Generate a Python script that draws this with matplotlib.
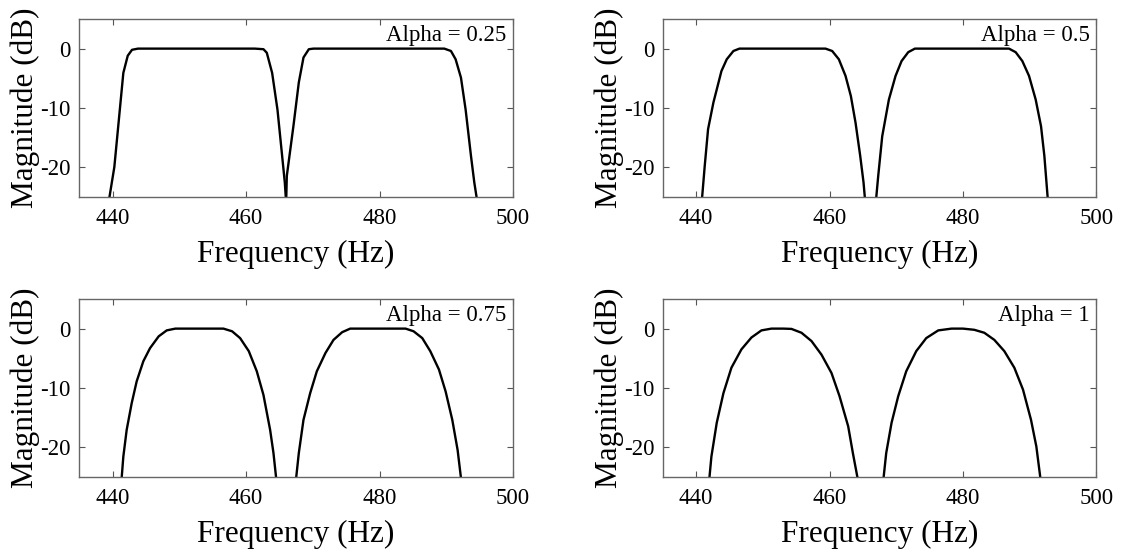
import matplotlib
matplotlib.use("Agg")
import matplotlib.pyplot as plt

plt.rcParams['font.family'] = ['Liberation Serif', 'DejaVu Serif']
plt.rcParams['axes.unicode_minus'] = False

# ---- data (frequency in Hz, magnitude in dB) ----
alphas = ["0.25", "0.5", "0.75", "1"]

# alpha = 0.25
a025_f1 = [439.5, 440.25, 441.6, 442.26, 442.9, 443.8, 461.3, 462.6, 463.1, 463.9, 464.7, 465.3, 465.8, 466.0]
a025_m1 = [-25.2, -20.0, -4.1, -1.2, -0.2, 0.0, 0.0, -0.1, -0.7, -4.1, -10.3, -17.0, -22.6, -26.0]
a025_f2 = [466.0, 466.1, 467.1, 467.9, 468.6, 469.4, 470.1, 489.7, 490.7, 491.4, 492.2, 492.9, 493.7, 494.2, 494.6]
a025_m2 = [-26.0, -21.5, -13.0, -5.7, -1.5, -0.1, 0.0, 0.0, -0.4, -1.8, -4.9, -10.3, -18.1, -22.6, -25.5]

# alpha = 0.5
a050_f1 = [440.9, 441.3, 441.8, 442.6, 443.1, 443.8, 444.6, 445.6, 446.5, 459.4, 460.4, 461.4, 462.4, 463.2, 463.9, 464.6, 465.1, 465.3]
a050_m1 = [-25.2, -19.8, -13.6, -9.1, -6.9, -3.8, -1.8, -0.4, 0.0, 0.0, -0.4, -1.8, -4.6, -8.0, -12.5, -18.1, -22.6, -25.2]
a050_f2 = [467.0, 467.3, 467.9, 468.9, 469.9, 470.8, 471.8, 472.8, 486.9, 487.9, 488.9, 489.9, 490.9, 491.7, 492.2, 492.7]
a050_m2 = [-25.2, -21.5, -14.8, -8.6, -4.6, -2.1, -0.6, 0.0, 0.0, -0.6, -2.1, -4.6, -8.6, -13.1, -18.1, -25.2]

# alpha = 0.75
a075_f1 = [441.35, 441.6, 442.1, 442.85, 443.6, 444.6, 445.6, 446.9, 448.1, 449.4, 456.6, 457.9, 459.1, 460.4, 461.6, 462.6, 463.6, 464.1, 464.5]
a075_m1 = [-25.2, -21.6, -17.1, -12.6, -8.9, -5.5, -3.3, -1.3, -0.3, 0.0, 0.0, -0.45, -1.6, -3.8, -7.2, -11.2, -17.1, -21.0, -25.2]
a075_f2 = [467.5, 467.9, 468.6, 469.6, 470.6, 471.9, 473.1, 474.4, 475.6, 483.9, 485.1, 486.4, 487.6, 488.9, 489.9, 490.9, 491.7, 492.2]
a075_m2 = [-25.2, -21.0, -15.4, -10.9, -7.2, -4.1, -1.9, -0.6, 0.0, 0.0, -0.45, -1.6, -3.8, -6.9, -10.6, -15.4, -20.5, -25.2]

# alpha = 1
a100_f1 = [442.0, 442.3, 443.1, 444.1, 445.3, 446.8, 448.3, 449.8, 451.3, 453.1, 454.3, 455.8, 457.3, 458.8, 460.3, 461.5, 462.8, 463.5, 464.2]
a100_m1 = [-25.2, -21.6, -15.9, -10.9, -6.6, -3.5, -1.5, -0.3, 0.0, 0.0, -0.05, -0.7, -2.1, -4.4, -7.5, -11.4, -16.5, -21.0, -25.2]
a100_f2 = [468.1, 468.5, 469.3, 470.3, 471.5, 473.0, 474.5, 476.3, 478.3, 480.0, 481.7, 483.2, 484.7, 486.2, 487.7, 489.0, 490.2, 491.0, 491.6]
a100_m2 = [-25.2, -21.0, -15.9, -11.4, -7.2, -3.8, -1.6, -0.3, 0.0, 0.0, -0.2, -0.7, -1.9, -3.8, -6.6, -10.3, -15.4, -19.9, -25.2]

bands = [
    [(a025_f1, a025_m1), (a025_f2, a025_m2)],
    [(a050_f1, a050_m1), (a050_f2, a050_m2)],
    [(a075_f1, a075_m1), (a075_f2, a075_m2)],
    [(a100_f1, a100_m1), (a100_f2, a100_m2)],
]

xticks = [440, 460, 480, 500]
yticks = [-20, -10, 0]
ytick_labels = ["-20", "-10", "0"]

W, H = 1125, 553
fig = plt.figure(figsize=(W / 100, H / 100), dpi=100)

lefts = [79.3, 662.7, 79.3, 662.7]
tops = [19, 19, 299, 299]
aw, ah = 433.7, 177.7

for i in range(4):
    ax = fig.add_axes([lefts[i] / W, (H - tops[i] - ah) / H, aw / W, ah / H])
    for f, m in bands[i]:
        ax.plot(f, m, color='black', lw=1.7, solid_joinstyle='round')
    ax.set_xlim(435, 500)
    ax.set_ylim(-25, 5)
    ax.set_xticks(xticks)
    ax.set_xticklabels([str(v) for v in xticks])
    ax.set_yticks(yticks)
    ax.set_yticklabels(ytick_labels)
    ax.tick_params(direction='in', top=True, right=True, length=4, width=0.8,
                   color='#555555', labelsize=16.5)
    ax.tick_params(axis='x', pad=8)
    ax.tick_params(axis='y', pad=6)
    for s in ax.spines.values():
        s.set_color('#666666')
        s.set_linewidth(1.0)
    ax.set_xlabel("Frequency (Hz)", fontsize=22.5, labelpad=8)
    ax.set_ylabel("Magnitude (dB)", fontsize=22.5, labelpad=0)
    ax.text(0.985, 0.965, "Alpha = " + alphas[i], transform=ax.transAxes,
            ha='right', va='top', fontsize=16.5)

fig.savefig("out.png", dpi=100)
